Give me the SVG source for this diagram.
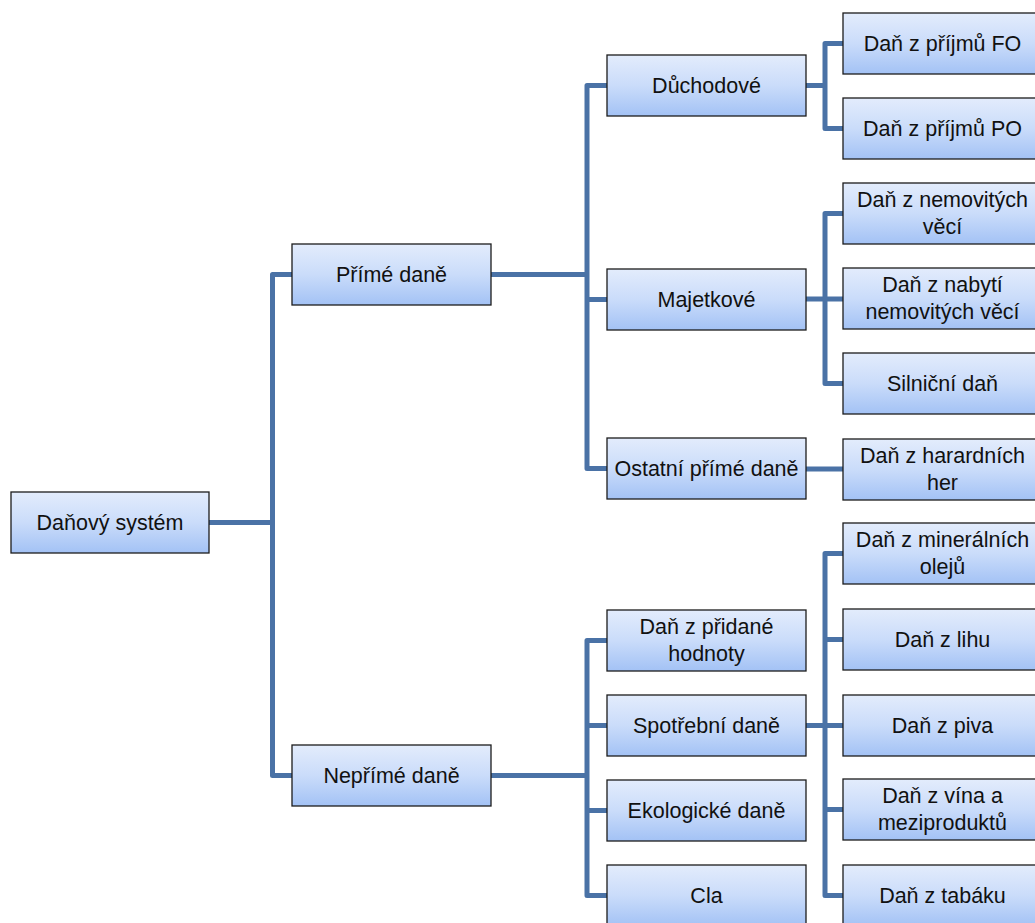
<svg xmlns="http://www.w3.org/2000/svg" width="1035" height="923" viewBox="0 0 1035 923">
<defs>
<linearGradient id="g" x1="0" y1="0" x2="0" y2="1">
<stop offset="0" stop-color="#E3ECFC"/>
<stop offset="0.5" stop-color="#CADCFA"/>
<stop offset="1" stop-color="#A3C2F5"/>
</linearGradient>
<style>
.b{fill:url(#g);stroke:#1c1c1c;stroke-width:1.3}
.t{font-family:"Liberation Sans",Arial,sans-serif;font-size:21.5px;fill:#111;text-anchor:middle}
.c path{fill:none;stroke:#4A72A6;stroke-width:5;stroke-linejoin:round}
</style>
</defs>
<rect width="1035" height="923" fill="#fff"/>
<g class="c" id="connectors">
<path d="M209 522.5 H272.5"/>
<path d="M292 274.5 H272.5 V775.5 H292"/>
<path d="M491 274.5 H587"/>
<path d="M607 85.5 H587 V468.5 H607"/>
<path d="M587 299.5 H607"/>
<path d="M806 85.5 H825"/>
<path d="M843 43.5 H825 V128.5 H843"/>
<path d="M806 299 H843"/>
<path d="M843 213.5 H825 V383.5 H843"/>
<path d="M806 469 H843"/>
<path d="M491 775.5 H587"/>
<path d="M607 640.5 H587 V895.5 H607"/>
<path d="M587 725.5 H607"/>
<path d="M587 810.5 H607"/>
<path d="M806 725.5 H843"/>
<path d="M843 553.5 H825 V895.5 H843"/>
<path d="M825 639.5 H843"/>
<path d="M825 809.5 H843"/>
</g>
<g id="n-root"><rect class="b" x="11" y="492" width="198" height="61"/><text class="t" x="110" y="530">Daňový systém</text></g>
<g id="n-prime"><rect class="b" x="292" y="244" width="199" height="61"/><text class="t" x="391.5" y="282">Přímé daně</text></g>
<g id="n-neprime"><rect class="b" x="292" y="745" width="199" height="61"/><text class="t" x="391.5" y="783">Nepřímé daně</text></g>
<g id="n-duchodove"><rect class="b" x="607" y="55" width="199" height="61"/><text class="t" x="706.5" y="93">Důchodové</text></g>
<g id="n-majetkove"><rect class="b" x="607" y="269" width="199" height="61"/><text class="t" x="706.5" y="307">Majetkové</text></g>
<g id="n-ostatni"><rect class="b" x="607" y="438" width="199" height="61"/><text class="t" x="706.5" y="476">Ostatní přímé daně</text></g>
<g id="n-dph"><rect class="b" x="607" y="610" width="199" height="61"/><text class="t" x="706.5" y="633.5">Daň z přidané</text><text class="t" x="706.5" y="660.5">hodnoty</text></g>
<g id="n-spotrebni"><rect class="b" x="607" y="695" width="199" height="61"/><text class="t" x="706.5" y="733">Spotřební daně</text></g>
<g id="n-ekologicke"><rect class="b" x="607" y="780" width="199" height="61"/><text class="t" x="706.5" y="818">Ekologické daně</text></g>
<g id="n-cla"><rect class="b" x="607" y="865" width="199" height="61"/><text class="t" x="706.5" y="903">Cla</text></g>
<g id="n-fo"><rect class="b" x="843" y="13" width="199" height="61"/><text class="t" x="942.5" y="51">Daň z příjmů FO</text></g>
<g id="n-po"><rect class="b" x="843" y="98" width="199" height="61"/><text class="t" x="942.5" y="136">Daň z příjmů PO</text></g>
<g id="n-nemovite"><rect class="b" x="843" y="183" width="199" height="61"/><text class="t" x="942.5" y="206.5">Daň z nemovitých</text><text class="t" x="942.5" y="233.5">věcí</text></g>
<g id="n-nabyti"><rect class="b" x="843" y="268" width="199" height="61"/><text class="t" x="942.5" y="291.5">Daň z nabytí</text><text class="t" x="942.5" y="318.5">nemovitých věcí</text></g>
<g id="n-silnicni"><rect class="b" x="843" y="353" width="199" height="61"/><text class="t" x="942.5" y="391">Silniční daň</text></g>
<g id="n-hazard"><rect class="b" x="843" y="439" width="199" height="61"/><text class="t" x="942.5" y="462.5">Daň z harardních</text><text class="t" x="942.5" y="489.5">her</text></g>
<g id="n-mineralni"><rect class="b" x="843" y="523" width="199" height="61"/><text class="t" x="942.5" y="546.5">Daň z minerálních</text><text class="t" x="942.5" y="573.5">olejů</text></g>
<g id="n-lih"><rect class="b" x="843" y="609" width="199" height="61"/><text class="t" x="942.5" y="647">Daň z lihu</text></g>
<g id="n-pivo"><rect class="b" x="843" y="695" width="199" height="61"/><text class="t" x="942.5" y="733">Daň z piva</text></g>
<g id="n-vino"><rect class="b" x="843" y="779" width="199" height="61"/><text class="t" x="942.5" y="802.5">Daň z vína a</text><text class="t" x="942.5" y="829.5">meziproduktů</text></g>
<g id="n-tabak"><rect class="b" x="843" y="865" width="199" height="61"/><text class="t" x="942.5" y="903">Daň z tabáku</text></g>
</svg>
